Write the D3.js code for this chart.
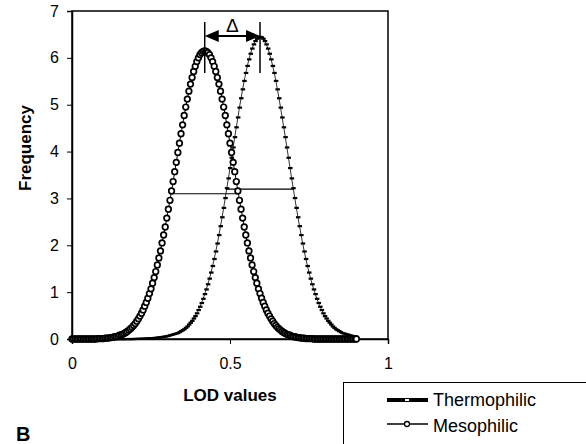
<!DOCTYPE html>
<html>
<head>
<meta charset="utf-8">
<script src="https://cdn.jsdelivr.net/npm/d3@7"></script>
<style>
body { margin: 0; background: #fff; }
text { font-family: "Liberation Sans", Arial, sans-serif; fill: #000; }
.tick-label { font-size: 16px; }
.axis-title { font-size: 17px; font-weight: bold; }
.legend-label { font-size: 18px; }
</style>
</head>
<body>
<svg id="chart" width="586" height="444"></svg>
<script>
// LOD grid, step 0.005 from 0 to 0.9
let lod_values = d3.range(0, 181).map(i => +(i * 0.005).toFixed(3));

let mesophilic = [
	0,0,0,0,0,0,0,0,0,0,0,0,0,0,0,0,
	0.01,0.01,0.01,0.01,0.01,0.02,0.02,0.02,
	0.03,0.03,0.04,0.05,0.05,0.06,0.08,0.09,0.10,0.12,
	0.14,0.16,0.19,0.22,0.25,0.29,0.33,0.38,0.43,0.49,
	0.55,0.62,0.70,0.78,0.87,0.97,1.07,1.19,1.31,1.44,
	1.58,1.73,1.88,2.05,2.22,2.39,2.58,2.77,2.96,3.16,
	3.36,3.57,3.77,3.98,4.18,4.38,4.57,4.77,4.95,5.12,
	5.29,5.44,5.58,5.71,5.82,5.92,6.00,6.07,6.11,6.14,
	6.15,
	6.14,6.11,6.07,6.00,5.92,5.82,5.71,5.58,5.44,5.29,
	5.12,4.95,4.77,4.57,4.38,4.18,3.98,3.77,3.57,3.36,
	3.16,2.96,2.77,2.58,2.39,2.22,2.05,1.88,1.73,1.58,
	1.44,1.31,1.19,1.07,0.97,0.87,0.78,0.70,0.62,0.55,
	0.49,0.43,0.38,0.33,0.29,0.25,0.22,0.19,0.16,0.14,
	0.12,0.10,0.09,0.08,0.06,0.05,0.05,0.04,0.03,0.03,
	0.02,0.02,0.02,0.01,0.01,0.01,0.01,0.01,
	0,0,0,0,0,0,0,0,0,0,0,0,0,0,0,0,0,0,0,0,0,0,0,0,0,0,0,0
];

let thermophilic = [
	0,0,0,0,0,0,0,0,0,0,0,0,0,0,0,0,0,0,0,0,0,0,0,0,0,0,0,0,0,0,0,0,0,0,
	0.001,0.001,0.001,0.001,0.001,
	0.002,0.003,0.004,0.005,0.006,0.007,0.008,0.01,0.012,0.014,
	0.016,0.018,0.021,0.024,0.027,0.03,0.035,0.04,0.045,0.05,
	0.055,0.06,0.07,0.08,0.09,0.10,0.11,0.12,0.13,0.15,
	0.17,0.19,0.21,0.24,0.27,0.31,0.35,0.39,0.44,0.49,
	0.55,0.62,0.69,0.77,0.86,0.96,1.06,1.17,1.29,1.42,
	1.56,1.71,1.87,2.04,2.22,2.41,2.60,2.80,3.01,3.22,
	3.43,3.65,3.87,4.09,4.31,4.52,4.73,4.94,5.14,5.33,
	5.51,5.68,5.83,5.97,6.09,6.20,6.29,6.36,6.41,6.44,
	6.45,
	6.44,6.41,6.36,6.29,6.20,6.09,5.97,5.83,5.68,5.51,
	5.33,5.14,4.94,4.73,4.52,4.31,4.09,3.87,3.65,3.43,
	3.22,3.01,2.80,2.60,2.41,2.22,2.04,1.87,1.71,1.56,
	1.42,1.29,1.17,1.06,0.96,0.86,0.77,0.69,0.62,0.55,
	0.49,0.44,0.39,0.35,0.31,0.27,0.24,0.21,0.19,0.17,
	0.15,0.13,0.12,0.11,0.10,0.09,0.08,0.07,0.06,0.055,
	0.05
];

let x_ticks = [0, 0.5, 1];
let x_tick_labels = ["0", "0.5", "1"];
let y_ticks = [0, 1, 2, 3, 4, 5, 6, 7];

// half-height bars and the peak shift marker
let half_lines = [
	{ y: 3.1, x0: 0.31, x1: 0.525 },
	{ y: 3.2, x0: 0.49, x1: 0.70 }
];
let peak_meso = 0.42;
let peak_thermo = 0.595;

let svg = d3.select("#chart");

let x = d3.scaleLinear().domain([0, 1]).range([72, 388]);
let y = d3.scaleLinear().domain([0, 7]).range([339, 11]);

// plot frame
svg.append("rect")
	.attr("x", x(0)).attr("y", y(7))
	.attr("width", x(1) - x(0)).attr("height", y(0) - y(7))
	.attr("fill", "none").attr("stroke", "#000").attr("stroke-width", 1.5);

// y axis
let y_axis = svg.append("g")
	.attr("transform", "translate(" + x(0) + ",0)")
	.call(d3.axisLeft(y).tickValues(y_ticks).tickSize(5).tickPadding(8).tickFormat(d3.format("d")));
y_axis.select(".domain").attr("stroke-width", 1.5);
y_axis.selectAll("text").attr("class", "tick-label").attr("font-size", null).attr("font-family", null);

// x axis
let x_axis = svg.append("g")
	.attr("transform", "translate(0," + y(0) + ")")
	.call(d3.axisBottom(x).tickValues(x_ticks).tickSize(5).tickPadding(14)
		.tickFormat((d, i) => x_tick_labels[i]));
x_axis.select(".domain").attr("stroke-width", 1.5);
x_axis.selectAll("text").attr("class", "tick-label").attr("font-size", null).attr("font-family", null);

// titles
svg.append("text")
	.attr("class", "axis-title")
	.attr("transform", "translate(31,148) rotate(-90)")
	.attr("text-anchor", "middle")
	.text("Frequency");

svg.append("text")
	.attr("class", "axis-title")
	.attr("x", x(0.5)).attr("y", 401)
	.attr("text-anchor", "middle")
	.text("LOD values");

svg.append("text")
	.attr("x", 16).attr("y", 441)
	.attr("font-size", 20).attr("font-weight", "bold")
	.text("B");

let thermo_data = d3.zip(lod_values, thermophilic);
let meso_data = d3.zip(lod_values, mesophilic);

let line = d3.line()
	.x(d => x(d[0]))
	.y(d => y(d[1]));

// thermophilic: thin line with dash markers
svg.append("path")
	.datum(thermo_data)
	.attr("d", line)
	.attr("fill", "none")
	.attr("stroke", "#000")
	.attr("stroke-width", 0.8);

svg.selectAll(".thermo-dot").data(thermo_data).enter().append("rect")
	.attr("class", "thermo-dot")
	.attr("x", d => x(d[0]) - 2)
	.attr("y", d => y(d[1]) - 1)
	.attr("width", 4.5)
	.attr("height", 2.2)
	.attr("fill", "#000");

// half-height bars
svg.selectAll(".half").data(half_lines).enter().append("line")
	.attr("class", "half")
	.attr("x1", d => x(d.x0)).attr("x2", d => x(d.x1))
	.attr("y1", d => y(d.y)).attr("y2", d => y(d.y))
	.attr("stroke", "#000").attr("stroke-width", 1.2);

// mesophilic: thin line with open circles
svg.append("path")
	.datum(meso_data)
	.attr("d", line)
	.attr("fill", "none")
	.attr("stroke", "#000")
	.attr("stroke-width", 1);

svg.selectAll(".meso-dot").data(meso_data).enter().append("circle")
	.attr("class", "meso-dot")
	.attr("cx", d => x(d[0]))
	.attr("cy", d => y(d[1]))
	.attr("r", 2.8)
	.attr("fill", "#fff")
	.attr("stroke", "#000")
	.attr("stroke-width", 1.7);

// delta annotation
let ann = svg.append("g");
[peak_meso, peak_thermo].forEach(p => {
	ann.append("line")
		.attr("x1", x(p)).attr("x2", x(p))
		.attr("y1", 22).attr("y2", 73)
		.attr("stroke", "#000").attr("stroke-width", 1.5);
});
let ax0 = x(peak_meso), ax1 = x(peak_thermo), ay = 36;
ann.append("line")
	.attr("x1", ax0 + 10).attr("x2", ax1 - 10)
	.attr("y1", ay).attr("y2", ay)
	.attr("stroke", "#000").attr("stroke-width", 2);
ann.append("path")
	.attr("d", "M" + ax0 + "," + ay + "L" + (ax0 + 14) + "," + (ay - 6) + "L" + (ax0 + 14) + "," + (ay + 6) + "Z")
	.attr("fill", "#000");
ann.append("path")
	.attr("d", "M" + ax1 + "," + ay + "L" + (ax1 - 14) + "," + (ay - 6) + "L" + (ax1 - 14) + "," + (ay + 6) + "Z")
	.attr("fill", "#000");
ann.append("text")
	.attr("x", (ax0 + ax1) / 2).attr("y", 32)
	.attr("text-anchor", "middle")
	.attr("font-size", 19)
	.text("Δ");

// legend
let legend = svg.append("g");
legend.append("rect")
	.attr("x", 343.5).attr("y", 382.5)
	.attr("width", 260).attr("height", 80)
	.attr("fill", "#fff").attr("stroke", "#000").attr("stroke-width", 1);

legend.append("line")
	.attr("x1", 387).attr("x2", 428).attr("y1", 400).attr("y2", 400)
	.attr("stroke", "#000").attr("stroke-width", 4);
legend.append("rect")
	.attr("x", 405).attr("y", 399).attr("width", 4).attr("height", 2)
	.attr("fill", "#fff");
legend.append("text")
	.attr("class", "legend-label")
	.attr("x", 433).attr("y", 406)
	.text("Thermophilic");

legend.append("line")
	.attr("x1", 387).attr("x2", 428).attr("y1", 424).attr("y2", 424)
	.attr("stroke", "#000").attr("stroke-width", 1.5);
legend.append("circle")
	.attr("cx", 407).attr("cy", 424).attr("r", 2.5)
	.attr("fill", "#fff").attr("stroke", "#000").attr("stroke-width", 1.3);
legend.append("text")
	.attr("class", "legend-label")
	.attr("x", 433).attr("y", 432)
	.text("Mesophilic");
</script>
</body>
</html>
